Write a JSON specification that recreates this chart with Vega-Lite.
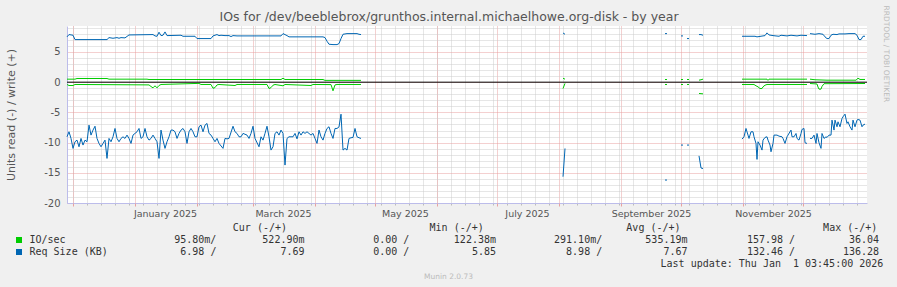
{
  "$schema": "https://vega.github.io/schema/vega-lite/v6.json",
  "width": 800,
  "height": 177,
  "autosize": {"type": "none"},
  "padding": {"left": 67, "top": 26, "right": 30, "bottom": 84},
  "background": "#F0F0F0",
  "title": {
    "text": "IOs for /dev/beeblebrox/grunthos.internal.michaelhowe.org-disk - by year",
    "frame": "group", "anchor": "middle", "dx": -18, "dy": 28, "offset": 0, "baseline": "alphabetic",
    "font": "DejaVu Sans", "fontSize": 12.5, "fontWeight": "normal", "color": "#555555"
  },
  "config": {
    "view": {"fill": "#FFFFFF", "stroke": null},
    "font": "DejaVu Sans"
  },
  "datasets": {
    "series": [
      {"d":"2024-11-28","m":"S","s":"r1","v":-9.04},{"d":"2024-11-29","m":"S","s":"r1","v":-8.21},{"d":"2024-11-30","m":"S","s":"r1","v":-9.31},
      {"d":"2024-12-01","m":"S","s":"r1","v":-10.96},{"d":"2024-12-02","m":"S","s":"r1","v":-9.86},{"d":"2024-12-03","m":"S","s":"r1","v":-9.59},
      {"d":"2024-12-04","m":"S","s":"r1","v":-10.69},{"d":"2024-12-05","m":"S","s":"r1","v":-9.31},{"d":"2024-12-06","m":"S","s":"r1","v":-10.41},
      {"d":"2024-12-07","m":"S","s":"r1","v":-9.59},{"d":"2024-12-08","m":"S","s":"r1","v":-9.86},{"d":"2024-12-09","m":"S","s":"r1","v":-7.11},
      {"d":"2024-12-10","m":"S","s":"r1","v":-8.76},{"d":"2024-12-11","m":"S","s":"r1","v":-7.93},{"d":"2024-12-12","m":"S","s":"r1","v":-7.29},
      {"d":"2024-12-13","m":"S","s":"r1","v":-9.31},{"d":"2024-12-14","m":"S","s":"r1","v":-10.14},{"d":"2024-12-15","m":"S","s":"r1","v":-10.69},
      {"d":"2024-12-16","m":"S","s":"r1","v":-10.14},{"d":"2024-12-17","m":"S","s":"r1","v":-9.59},{"d":"2024-12-18","m":"S","s":"r1","v":-12.62},
      {"d":"2024-12-19","m":"S","s":"r1","v":-9.31},{"d":"2024-12-20","m":"S","s":"r1","v":-9.86},{"d":"2024-12-21","m":"S","s":"r1","v":-9.04},
      {"d":"2024-12-22","m":"S","s":"r1","v":-7.66},{"d":"2024-12-23","m":"S","s":"r1","v":-9.31},{"d":"2024-12-24","m":"S","s":"r1","v":-9.86},
      {"d":"2024-12-25","m":"S","s":"r1","v":-9.31},{"d":"2024-12-26","m":"S","s":"r1","v":-9.04},{"d":"2024-12-27","m":"S","s":"r1","v":-9.31},
      {"d":"2024-12-28","m":"S","s":"r1","v":-8.76},{"d":"2024-12-29","m":"S","s":"r1","v":-9.31},{"d":"2024-12-30","m":"S","s":"r1","v":-10.14},
      {"d":"2024-12-31","m":"S","s":"r1","v":-8.76},{"d":"2025-01-01","m":"S","s":"r1","v":-8.48},{"d":"2025-01-02","m":"S","s":"r1","v":-8.21},
      {"d":"2025-01-03","m":"S","s":"r1","v":-7.66},{"d":"2025-01-04","m":"S","s":"r1","v":-9.31},{"d":"2025-01-05","m":"S","s":"r1","v":-9.04},
      {"d":"2025-01-06","m":"S","s":"r1","v":-7.66},{"d":"2025-01-07","m":"S","s":"r1","v":-9.04},{"d":"2025-01-08","m":"S","s":"r1","v":-9.59},
      {"d":"2025-01-09","m":"S","s":"r1","v":-9.31},{"d":"2025-01-10","m":"S","s":"r1","v":-8.76},{"d":"2025-01-11","m":"S","s":"r1","v":-9.31},
      {"d":"2025-01-12","m":"S","s":"r1","v":-9.86},{"d":"2025-01-13","m":"S","s":"r1","v":-12.62},{"d":"2025-01-14","m":"S","s":"r1","v":-7.93},
      {"d":"2025-01-15","m":"S","s":"r1","v":-9.59},{"d":"2025-01-16","m":"S","s":"r1","v":-10.96},{"d":"2025-01-17","m":"S","s":"r1","v":-9.86},
      {"d":"2025-01-18","m":"S","s":"r1","v":-9.04},{"d":"2025-01-19","m":"S","s":"r1","v":-7.93},{"d":"2025-01-20","m":"S","s":"r1","v":-7.93},
      {"d":"2025-01-21","m":"S","s":"r1","v":-8.21},{"d":"2025-01-22","m":"S","s":"r1","v":-9.31},{"d":"2025-01-23","m":"S","s":"r1","v":-8.48},
      {"d":"2025-01-24","m":"S","s":"r1","v":-7.93},{"d":"2025-01-25","m":"S","s":"r1","v":-7.66},{"d":"2025-01-26","m":"S","s":"r1","v":-8.21},
      {"d":"2025-01-27","m":"S","s":"r1","v":-10.14},{"d":"2025-01-28","m":"S","s":"r1","v":-8.21},{"d":"2025-01-29","m":"S","s":"r1","v":-7.66},
      {"d":"2025-01-30","m":"S","s":"r1","v":-8.21},{"d":"2025-01-31","m":"S","s":"r1","v":-9.04},{"d":"2025-02-01","m":"S","s":"r1","v":-9.04},
      {"d":"2025-02-02","m":"S","s":"r1","v":-7.38},{"d":"2025-02-03","m":"S","s":"r1","v":-7.11},{"d":"2025-02-04","m":"S","s":"r1","v":-8.21},
      {"d":"2025-02-05","m":"S","s":"r1","v":-7.11},{"d":"2025-02-06","m":"S","s":"r1","v":-6.83},{"d":"2025-02-07","m":"S","s":"r1","v":-8.48},
      {"d":"2025-02-08","m":"S","s":"r1","v":-8.76},{"d":"2025-02-09","m":"S","s":"r1","v":-9.31},{"d":"2025-02-10","m":"S","s":"r1","v":-9.86},
      {"d":"2025-02-11","m":"S","s":"r1","v":-9.31},{"d":"2025-02-12","m":"S","s":"r1","v":-10.14},{"d":"2025-02-14","m":"S","s":"r1","v":-10.96},
      {"d":"2025-02-15","m":"S","s":"r1","v":-9.31},{"d":"2025-02-16","m":"S","s":"r1","v":-9.38},{"d":"2025-02-17","m":"S","s":"r1","v":-9.31},
      {"d":"2025-02-19","m":"S","s":"r1","v":-7.29},{"d":"2025-02-20","m":"S","s":"r1","v":-8.21},{"d":"2025-02-21","m":"S","s":"r1","v":-8.48},
      {"d":"2025-02-22","m":"S","s":"r1","v":-9.04},{"d":"2025-02-23","m":"S","s":"r1","v":-9.04},{"d":"2025-02-24","m":"S","s":"r1","v":-8.48},
      {"d":"2025-02-26","m":"S","s":"r1","v":-8.76},{"d":"2025-02-27","m":"S","s":"r1","v":-9.31},{"d":"2025-02-28","m":"S","s":"r1","v":-8.48},
      {"d":"2025-03-01","m":"S","s":"r1","v":-7.29},{"d":"2025-03-02","m":"S","s":"r1","v":-9.31},{"d":"2025-03-04","m":"S","s":"r1","v":-10.69},
      {"d":"2025-03-05","m":"S","s":"r1","v":-9.04},{"d":"2025-03-06","m":"S","s":"r1","v":-9.59},{"d":"2025-03-07","m":"S","s":"r1","v":-8.48},
      {"d":"2025-03-08","m":"S","s":"r1","v":-7.29},{"d":"2025-03-09","m":"S","s":"r1","v":-9.04},{"d":"2025-03-10","m":"S","s":"r1","v":-11.24},
      {"d":"2025-03-11","m":"S","s":"r1","v":-10.69},{"d":"2025-03-12","m":"S","s":"r1","v":-8.48},{"d":"2025-03-13","m":"S","s":"r1","v":-8.21},
      {"d":"2025-03-14","m":"S","s":"r1","v":-8.76},{"d":"2025-03-15","m":"S","s":"r1","v":-7.93},{"d":"2025-03-16","m":"S","s":"r1","v":-8.48},
      {"d":"2025-03-17","m":"S","s":"r1","v":-13.72},{"d":"2025-03-18","m":"S","s":"r1","v":-9.31},{"d":"2025-03-19","m":"S","s":"r1","v":-9.04},
      {"d":"2025-03-21","m":"S","s":"r1","v":-9.04},{"d":"2025-03-22","m":"S","s":"r1","v":-8.48},{"d":"2025-03-23","m":"S","s":"r1","v":-9.38},
      {"d":"2025-03-24","m":"S","s":"r1","v":-8.21},{"d":"2025-03-25","m":"S","s":"r1","v":-8.76},{"d":"2025-03-26","m":"S","s":"r1","v":-8.21},
      {"d":"2025-03-27","m":"S","s":"r1","v":-8.48},{"d":"2025-03-28","m":"S","s":"r1","v":-8.21},{"d":"2025-03-30","m":"S","s":"r1","v":-8.76},
      {"d":"2025-03-31","m":"S","s":"r1","v":-8.48},{"d":"2025-04-01","m":"S","s":"r1","v":-9.31},{"d":"2025-04-02","m":"S","s":"r1","v":-10.14},
      {"d":"2025-04-03","m":"S","s":"r1","v":-7.93},{"d":"2025-04-04","m":"S","s":"r1","v":-9.04},{"d":"2025-04-05","m":"S","s":"r1","v":-9.59},
      {"d":"2025-04-06","m":"S","s":"r1","v":-8.48},{"d":"2025-04-07","m":"S","s":"r1","v":-7.66},{"d":"2025-04-08","m":"S","s":"r1","v":-7.38},
      {"d":"2025-04-09","m":"S","s":"r1","v":-8.48},{"d":"2025-04-10","m":"S","s":"r1","v":-9.31},{"d":"2025-04-11","m":"S","s":"r1","v":-7.66},
      {"d":"2025-04-12","m":"S","s":"r1","v":-7.66},{"d":"2025-04-13","m":"S","s":"r1","v":-7.4},{"d":"2025-04-14","m":"S","s":"r1","v":-5.3},
      {"d":"2025-04-15","m":"S","s":"r1","v":-11.24},{"d":"2025-04-16","m":"S","s":"r1","v":-10.96},{"d":"2025-04-17","m":"S","s":"r1","v":-11.24},
      {"d":"2025-04-18","m":"S","s":"r1","v":-9.31},{"d":"2025-04-19","m":"S","s":"r1","v":-9.2},{"d":"2025-04-20","m":"S","s":"r1","v":-9.15},
      {"d":"2025-04-21","m":"S","s":"r1","v":-7.66},{"d":"2025-04-22","m":"S","s":"r1","v":-9.04},{"d":"2025-04-23","m":"S","s":"r1","v":-9.2},
      {"d":"2025-04-24","m":"S","s":"r1","v":-9.31},

      {"d":"2024-11-28","m":"S","s":"w1","v":7.5},{"d":"2024-11-29","m":"S","s":"w1","v":7.88},{"d":"2024-12-01","m":"S","s":"w1","v":7.77},
      {"d":"2024-12-02","m":"S","s":"w1","v":7.05},{"d":"2024-12-18","m":"S","s":"w1","v":7.05},{"d":"2024-12-19","m":"S","s":"w1","v":7.38},
      {"d":"2024-12-21","m":"S","s":"w1","v":7.27},{"d":"2024-12-23","m":"S","s":"w1","v":7.38},{"d":"2024-12-24","m":"S","s":"w1","v":7.27},
      {"d":"2024-12-25","m":"S","s":"w1","v":7.38},{"d":"2024-12-27","m":"S","s":"w1","v":7.33},{"d":"2024-12-29","m":"S","s":"w1","v":7.82},
      {"d":"2025-01-10","m":"S","s":"w1","v":7.88},{"d":"2025-01-11","m":"S","s":"w1","v":7.66},{"d":"2025-01-12","m":"S","s":"w1","v":7.6},
      {"d":"2025-01-13","m":"S","s":"w1","v":8.27},{"d":"2025-01-14","m":"S","s":"w1","v":7.71},{"d":"2025-01-15","m":"S","s":"w1","v":7.77},
      {"d":"2025-01-16","m":"S","s":"w1","v":8.32},{"d":"2025-01-17","m":"S","s":"w1","v":7.71},{"d":"2025-01-24","m":"S","s":"w1","v":7.77},
      {"d":"2025-01-25","m":"S","s":"w1","v":7.6},{"d":"2025-01-31","m":"S","s":"w1","v":7.6},{"d":"2025-02-01","m":"S","s":"w1","v":7.22},
      {"d":"2025-02-08","m":"S","s":"w1","v":7.22},{"d":"2025-02-09","m":"S","s":"w1","v":7.66},{"d":"2025-02-11","m":"S","s":"w1","v":7.88},
      {"d":"2025-02-12","m":"S","s":"w1","v":7.71},{"d":"2025-02-13","m":"S","s":"w1","v":7.77},{"d":"2025-02-15","m":"S","s":"w1","v":7.71},
      {"d":"2025-02-17","m":"S","s":"w1","v":7.71},{"d":"2025-02-18","m":"S","s":"w1","v":7.55},{"d":"2025-02-19","m":"S","s":"w1","v":7.71},
      {"d":"2025-02-21","m":"S","s":"w1","v":7.66},{"d":"2025-03-15","m":"S","s":"w1","v":7.66},{"d":"2025-03-16","m":"S","s":"w1","v":8.04},
      {"d":"2025-03-18","m":"S","s":"w1","v":7.71},{"d":"2025-03-19","m":"S","s":"w1","v":7.5},{"d":"2025-03-21","m":"S","s":"w1","v":7.5},
      {"d":"2025-04-05","m":"S","s":"w1","v":7.5},{"d":"2025-04-06","m":"S","s":"w1","v":7.38},{"d":"2025-04-07","m":"S","s":"w1","v":6.78},
      {"d":"2025-04-08","m":"S","s":"w1","v":6.28},{"d":"2025-04-10","m":"S","s":"w1","v":6.22},{"d":"2025-04-12","m":"S","s":"w1","v":6.22},
      {"d":"2025-04-13","m":"S","s":"w1","v":6.39},{"d":"2025-04-14","m":"S","s":"w1","v":7.22},{"d":"2025-04-15","m":"S","s":"w1","v":7.93},
      {"d":"2025-04-17","m":"S","s":"w1","v":8.04},{"d":"2025-04-22","m":"S","s":"w1","v":8.04},{"d":"2025-04-23","m":"S","s":"w1","v":7.93},
      {"d":"2025-04-24","m":"S","s":"w1","v":7.88},

      {"d":"2024-11-28","m":"I","s":"w1","v":0.5},{"d":"2024-12-02","m":"I","s":"w1","v":0.5},{"d":"2024-12-03","m":"I","s":"w1","v":0.61},
      {"d":"2024-12-18","m":"I","s":"w1","v":0.61},{"d":"2024-12-19","m":"I","s":"w1","v":0.5},{"d":"2025-01-07","m":"I","s":"w1","v":0.5},
      {"d":"2025-01-08","m":"I","s":"w1","v":0.44},{"d":"2025-03-15","m":"I","s":"w1","v":0.44},{"d":"2025-03-16","m":"I","s":"w1","v":0.66},
      {"d":"2025-03-17","m":"I","s":"w1","v":0.44},{"d":"2025-04-05","m":"I","s":"w1","v":0.44},{"d":"2025-04-06","m":"I","s":"w1","v":0.3},
      {"d":"2025-04-24","m":"I","s":"w1","v":0.3},

      {"d":"2024-11-28","m":"I","s":"r1","v":-0.38},{"d":"2024-11-29","m":"I","s":"r1","v":-0.55},{"d":"2024-12-01","m":"I","s":"r1","v":-0.55},
      {"d":"2024-12-02","m":"I","s":"r1","v":-0.38},{"d":"2025-01-08","m":"I","s":"r1","v":-0.45},{"d":"2025-01-09","m":"I","s":"r1","v":-0.72},
      {"d":"2025-01-10","m":"I","s":"r1","v":-0.94},{"d":"2025-01-11","m":"I","s":"r1","v":-0.6},{"d":"2025-01-12","m":"I","s":"r1","v":-0.94},
      {"d":"2025-01-13","m":"I","s":"r1","v":-0.55},{"d":"2025-01-14","m":"I","s":"r1","v":-0.38},{"d":"2025-02-02","m":"I","s":"r1","v":-0.2},
      {"d":"2025-02-03","m":"I","s":"r1","v":-0.38},{"d":"2025-02-08","m":"I","s":"r1","v":-0.38},{"d":"2025-02-09","m":"I","s":"r1","v":-1.0},
      {"d":"2025-02-10","m":"I","s":"r1","v":-0.9},{"d":"2025-02-11","m":"I","s":"r1","v":-0.45},{"d":"2025-02-12","m":"I","s":"r1","v":-0.38},
      {"d":"2025-02-20","m":"I","s":"r1","v":-0.55},{"d":"2025-02-21","m":"I","s":"r1","v":-0.38},{"d":"2025-03-08","m":"I","s":"r1","v":-0.38},
      {"d":"2025-03-09","m":"I","s":"r1","v":-1.05},{"d":"2025-03-10","m":"I","s":"r1","v":-0.9},{"d":"2025-03-11","m":"I","s":"r1","v":-0.5},
      {"d":"2025-03-12","m":"I","s":"r1","v":-0.38},{"d":"2025-03-16","m":"I","s":"r1","v":-0.6},{"d":"2025-03-17","m":"I","s":"r1","v":-0.38},
      {"d":"2025-03-30","m":"I","s":"r1","v":-0.55},{"d":"2025-03-31","m":"I","s":"r1","v":-0.38},{"d":"2025-04-09","m":"I","s":"r1","v":-0.4},
      {"d":"2025-04-10","m":"I","s":"r1","v":-1.43},{"d":"2025-04-11","m":"I","s":"r1","v":-0.45},{"d":"2025-04-12","m":"I","s":"r1","v":-0.38},
      {"d":"2025-04-24","m":"I","s":"r1","v":-0.38},

      {"d":"2025-08-03","m":"S","s":"w2","v":8.15},{"d":"2025-08-04","m":"S","s":"w2","v":7.93},
      {"d":"2025-08-03","m":"S","s":"r2","v":-15.65},{"d":"2025-08-04","m":"S","s":"r2","v":-10.97},
      {"d":"2025-08-03","m":"I","s":"w2","v":0.65},{"d":"2025-08-04","m":"I","s":"w2","v":0.5},
      {"d":"2025-08-03","m":"I","s":"r2","v":-1.05},{"d":"2025-08-04","m":"I","s":"r2","v":-0.2},

      {"d":"2025-09-23","m":"S","s":"w3","v":8.04},{"d":"2025-09-24","m":"S","s":"w3","v":8.04},
      {"d":"2025-09-23","m":"S","s":"r3","v":-16.2},{"d":"2025-09-24","m":"S","s":"r3","v":-16.2},
      {"d":"2025-09-23","m":"I","s":"w3","v":0.44},{"d":"2025-09-24","m":"I","s":"w3","v":0.44},
      {"d":"2025-09-23","m":"I","s":"r3","v":-0.38},{"d":"2025-09-24","m":"I","s":"r3","v":-0.38},

      {"d":"2025-10-01","m":"S","s":"w4","v":7.66},{"d":"2025-10-02","m":"S","s":"w4","v":7.66},
      {"d":"2025-10-01","m":"S","s":"r4","v":-10.41},{"d":"2025-10-02","m":"S","s":"r4","v":-10.41},
      {"d":"2025-10-01","m":"I","s":"w4","v":0.44},{"d":"2025-10-02","m":"I","s":"w4","v":0.44},
      {"d":"2025-10-01","m":"I","s":"r4","v":-0.38},{"d":"2025-10-02","m":"I","s":"r4","v":-0.38},

      {"d":"2025-10-04","m":"S","s":"w5","v":7.22},{"d":"2025-10-05","m":"S","s":"w5","v":7.22},
      {"d":"2025-10-04","m":"S","s":"r5","v":-10.41},{"d":"2025-10-05","m":"S","s":"r5","v":-10.41},
      {"d":"2025-10-04","m":"I","s":"w5","v":0.44},{"d":"2025-10-05","m":"I","s":"w5","v":0.44},
      {"d":"2025-10-04","m":"I","s":"r5","v":-0.38},{"d":"2025-10-05","m":"I","s":"r5","v":-0.38},

      {"d":"2025-10-10","m":"S","s":"w6","v":7.88},{"d":"2025-10-11","m":"S","s":"w6","v":7.88},{"d":"2025-10-12","m":"S","s":"w6","v":7.77},
      {"d":"2025-10-10","m":"S","s":"r6","v":-12.2},{"d":"2025-10-11","m":"S","s":"r6","v":-14.2},{"d":"2025-10-12","m":"S","s":"r6","v":-14.3},
      {"d":"2025-10-10","m":"I","s":"w6","v":0.33},{"d":"2025-10-11","m":"I","s":"w6","v":0.4},{"d":"2025-10-12","m":"I","s":"w6","v":0.5},
      {"d":"2025-10-10","m":"I","s":"r6","v":-1.87},{"d":"2025-10-11","m":"I","s":"r6","v":-1.9},{"d":"2025-10-12","m":"I","s":"r6","v":-1.93},

      {"d":"2025-10-31T12:00:00Z","m":"S","s":"r7","v":-9.42},{"d":"2025-11-01T12:00:00Z","m":"S","s":"r7","v":-9.04},
      {"d":"2025-11-02T12:00:00Z","m":"S","s":"r7","v":-7.66},{"d":"2025-11-03T12:00:00Z","m":"S","s":"r7","v":-8.76},
      {"d":"2025-11-04","m":"S","s":"r7","v":-9.31},{"d":"2025-11-05","m":"S","s":"r7","v":-8.21},{"d":"2025-11-06","m":"S","s":"r7","v":-8.21},
      {"d":"2025-11-06T12:00:00Z","m":"S","s":"r7","v":-9.04},{"d":"2025-11-07T12:00:00Z","m":"S","s":"r7","v":-10.14},
      {"d":"2025-11-08","m":"S","s":"r7","v":-12.78},{"d":"2025-11-08T12:00:00Z","m":"S","s":"r7","v":-9.86},
      {"d":"2025-11-09T12:00:00Z","m":"S","s":"r7","v":-10.41},{"d":"2025-11-10T12:00:00Z","m":"S","s":"r7","v":-11.24},
      {"d":"2025-11-11","m":"S","s":"r7","v":-9.59},{"d":"2025-11-12","m":"S","s":"r7","v":-9.15},{"d":"2025-11-13","m":"S","s":"r7","v":-9.04},
      {"d":"2025-11-13T12:00:00Z","m":"S","s":"r7","v":-9.59},{"d":"2025-11-14T12:00:00Z","m":"S","s":"r7","v":-10.41},
      {"d":"2025-11-15","m":"S","s":"r7","v":-11.52},{"d":"2025-11-16","m":"S","s":"r7","v":-10.14},{"d":"2025-11-16T12:00:00Z","m":"S","s":"r7","v":-8.76},
      {"d":"2025-11-18","m":"S","s":"r7","v":-8.76},{"d":"2025-11-19","m":"S","s":"r7","v":-8.93},{"d":"2025-11-20T12:00:00Z","m":"S","s":"r7","v":-9.04},
      {"d":"2025-11-21","m":"S","s":"r7","v":-9.31},{"d":"2025-11-22","m":"S","s":"r7","v":-10.14},{"d":"2025-11-23","m":"S","s":"r7","v":-9.04},
      {"d":"2025-11-23T12:00:00Z","m":"S","s":"r7","v":-8.76},{"d":"2025-11-25","m":"S","s":"r7","v":-7.93},
      {"d":"2025-11-25T12:00:00Z","m":"S","s":"r7","v":-9.04},{"d":"2025-11-26T12:00:00Z","m":"S","s":"r7","v":-9.04},
      {"d":"2025-11-27T12:00:00Z","m":"S","s":"r7","v":-8.49},{"d":"2025-11-28","m":"S","s":"r7","v":-9.31},{"d":"2025-11-29","m":"S","s":"r7","v":-9.59},
      {"d":"2025-11-30","m":"S","s":"r7","v":-8.49},{"d":"2025-11-30T12:00:00Z","m":"S","s":"r7","v":-7.82},
      {"d":"2025-12-01T12:00:00Z","m":"S","s":"r7","v":-7.66},{"d":"2025-12-02","m":"S","s":"r7","v":-10.03},{"d":"2025-12-03","m":"S","s":"r7","v":-10.14},

      {"d":"2025-12-04T12:00:00Z","m":"S","s":"r8","v":-9.31},{"d":"2025-12-05T12:00:00Z","m":"S","s":"r8","v":-9.31},
      {"d":"2025-12-06T12:00:00Z","m":"S","s":"r8","v":-8.76},{"d":"2025-12-07T12:00:00Z","m":"S","s":"r8","v":-10.14},
      {"d":"2025-12-08","m":"S","s":"r8","v":-8.49},{"d":"2025-12-09","m":"S","s":"r8","v":-10.03},{"d":"2025-12-10","m":"S","s":"r8","v":-10.96},
      {"d":"2025-12-10T12:00:00Z","m":"S","s":"r8","v":-8.49},{"d":"2025-12-11T12:00:00Z","m":"S","s":"r8","v":-9.31},
      {"d":"2025-12-12T12:00:00Z","m":"S","s":"r8","v":-9.04},{"d":"2025-12-13","m":"S","s":"r8","v":-9.15},{"d":"2025-12-14","m":"S","s":"r8","v":-8.76},
      {"d":"2025-12-15","m":"S","s":"r8","v":-8.76},{"d":"2025-12-15T12:00:00Z","m":"S","s":"r8","v":-6.28},
      {"d":"2025-12-16T12:00:00Z","m":"S","s":"r8","v":-7.93},{"d":"2025-12-17","m":"S","s":"r8","v":-6.28},{"d":"2025-12-18","m":"S","s":"r8","v":-7.38},
      {"d":"2025-12-18T12:00:00Z","m":"S","s":"r8","v":-6.56},{"d":"2025-12-19T12:00:00Z","m":"S","s":"r8","v":-7.38},
      {"d":"2025-12-20T12:00:00Z","m":"S","s":"r8","v":-6.01},{"d":"2025-12-21","m":"S","s":"r8","v":-5.73},{"d":"2025-12-22","m":"S","s":"r8","v":-5.29},
      {"d":"2025-12-23","m":"S","s":"r8","v":-6.83},{"d":"2025-12-23T12:00:00Z","m":"S","s":"r8","v":-6.56},
      {"d":"2025-12-24T12:00:00Z","m":"S","s":"r8","v":-7.38},{"d":"2025-12-25T12:00:00Z","m":"S","s":"r8","v":-7.93},
      {"d":"2025-12-26","m":"S","s":"r8","v":-6.28},{"d":"2025-12-27","m":"S","s":"r8","v":-7.38},{"d":"2025-12-28","m":"S","s":"r8","v":-6.28},
      {"d":"2025-12-28T12:00:00Z","m":"S","s":"r8","v":-6.17},{"d":"2025-12-29T12:00:00Z","m":"S","s":"r8","v":-6.28},
      {"d":"2025-12-30T12:00:00Z","m":"S","s":"r8","v":-7.38},{"d":"2025-12-31","m":"S","s":"r8","v":-7.11},{"d":"2026-01-01","m":"S","s":"r8","v":-6.94},

      {"d":"2025-10-31T12:00:00Z","m":"S","s":"w7","v":7.6},{"d":"2025-11-07","m":"S","s":"w7","v":7.6},{"d":"2025-11-08","m":"S","s":"w7","v":7.5},
      {"d":"2025-11-12","m":"S","s":"w7","v":7.71},{"d":"2025-11-13","m":"S","s":"w7","v":8.16},{"d":"2025-11-14","m":"S","s":"w7","v":7.82},
      {"d":"2025-11-16","m":"S","s":"w7","v":7.71},{"d":"2025-11-19","m":"S","s":"w7","v":7.6},{"d":"2025-11-20","m":"S","s":"w7","v":7.77},
      {"d":"2025-11-23","m":"S","s":"w7","v":7.66},{"d":"2025-11-25","m":"S","s":"w7","v":7.77},{"d":"2025-11-28","m":"S","s":"w7","v":7.66},
      {"d":"2025-11-30","m":"S","s":"w7","v":7.77},{"d":"2025-12-03","m":"S","s":"w7","v":7.71},

      {"d":"2025-12-04T12:00:00Z","m":"S","s":"w8","v":8.04},{"d":"2025-12-07","m":"S","s":"w8","v":7.93},{"d":"2025-12-09","m":"S","s":"w8","v":8.04},
      {"d":"2025-12-11","m":"S","s":"w8","v":7.93},{"d":"2025-12-12","m":"S","s":"w8","v":7.5},{"d":"2025-12-13","m":"S","s":"w8","v":7.22},
      {"d":"2025-12-14","m":"S","s":"w8","v":7.22},{"d":"2025-12-15","m":"S","s":"w8","v":7.77},{"d":"2025-12-16","m":"S","s":"w8","v":7.93},
      {"d":"2025-12-18","m":"S","s":"w8","v":7.88},{"d":"2025-12-19","m":"S","s":"w8","v":7.99},{"d":"2025-12-22","m":"S","s":"w8","v":7.99},
      {"d":"2025-12-24","m":"S","s":"w8","v":8.04},{"d":"2025-12-27","m":"S","s":"w8","v":8.04},{"d":"2025-12-28","m":"S","s":"w8","v":7.77},
      {"d":"2025-12-29","m":"S","s":"w8","v":7.05},{"d":"2025-12-30","m":"S","s":"w8","v":7.05},{"d":"2025-12-31","m":"S","s":"w8","v":7.6},
      {"d":"2026-01-01","m":"S","s":"w8","v":7.6},

      {"d":"2025-10-31T12:00:00Z","m":"I","s":"w7","v":0.5},{"d":"2025-11-13","m":"I","s":"w7","v":0.5},
      {"d":"2025-11-13T12:00:00Z","m":"I","s":"w7","v":0.3},{"d":"2025-11-14","m":"I","s":"w7","v":0.5},{"d":"2025-12-03","m":"I","s":"w7","v":0.5},

      {"d":"2025-10-31T12:00:00Z","m":"I","s":"r7","v":-0.38},{"d":"2025-11-06T12:00:00Z","m":"I","s":"r7","v":-0.38},
      {"d":"2025-11-07T12:00:00Z","m":"I","s":"r7","v":-0.6},{"d":"2025-11-08T12:00:00Z","m":"I","s":"r7","v":-0.77},
      {"d":"2025-11-09T12:00:00Z","m":"I","s":"r7","v":-1.05},{"d":"2025-11-10T12:00:00Z","m":"I","s":"r7","v":-1.05},
      {"d":"2025-11-11","m":"I","s":"r7","v":-0.77},{"d":"2025-11-12","m":"I","s":"r7","v":-0.5},{"d":"2025-11-13","m":"I","s":"r7","v":-0.38},
      {"d":"2025-12-03","m":"I","s":"r7","v":-0.38},

      {"d":"2025-12-04T12:00:00Z","m":"I","s":"w8","v":0.5},{"d":"2025-12-07","m":"I","s":"w8","v":0.4},{"d":"2025-12-13","m":"I","s":"w8","v":0.33},
      {"d":"2025-12-27T12:00:00Z","m":"I","s":"w8","v":0.33},{"d":"2025-12-28T12:00:00Z","m":"I","s":"w8","v":0.66},
      {"d":"2025-12-29T12:00:00Z","m":"I","s":"w8","v":0.45},{"d":"2026-01-01","m":"I","s":"w8","v":0.45},

      {"d":"2025-12-04T12:00:00Z","m":"I","s":"r8","v":-0.22},{"d":"2025-12-08","m":"I","s":"r8","v":-0.3},
      {"d":"2025-12-08T12:00:00Z","m":"I","s":"r8","v":-0.8},{"d":"2025-12-09","m":"I","s":"r8","v":-1.15},{"d":"2025-12-10","m":"I","s":"r8","v":-1.15},
      {"d":"2025-12-10T12:00:00Z","m":"I","s":"r8","v":-0.7},{"d":"2025-12-11T12:00:00Z","m":"I","s":"r8","v":-0.25},{"d":"2026-01-01","m":"I","s":"r8","v":-0.22}
    ],
    "heads": [
      {"stat": "Cur", "row": "hdr", "t": "Cur (-/+)"},
      {"stat": "Min", "row": "hdr", "t": "Min (-/+)"},
      {"stat": "Avg", "row": "hdr", "t": "Avg (-/+)"},
      {"stat": "Max", "row": "hdr", "t": "Max (-/+)"}
    ],
    "update": [
      {"stat": "Max", "row": "upd", "t": "Last update: Thu Jan \u00a01 03:45:00 2026"}
    ],
    "cells": [
      {"row": "io", "stat": "Cur", "r": "95.80m/", "w": "522.90m"},
      {"row": "io", "stat": "Min", "r": "0.00 /", "w": "122.38m"},
      {"row": "io", "stat": "Avg", "r": "291.10m/", "w": "535.19m"},
      {"row": "io", "stat": "Max", "r": "157.98 /", "w": "36.04"},
      {"row": "size", "stat": "Cur", "r": "6.98 /", "w": "7.69\u00a0"},
      {"row": "size", "stat": "Min", "r": "0.00 /", "w": "5.85\u00a0"},
      {"row": "size", "stat": "Avg", "r": "8.98 /", "w": "7.67\u00a0"},
      {"row": "size", "stat": "Max", "r": "132.46 /", "w": "136.28"}
    ]
  },
  "layer": [
    {
      "data": {"name": "series"},
      "layer": [
        {
          "data": {"values": [{}]},
          "mark": {"type": "rule", "color": "#000000", "strokeWidth": 1},
          "encoding": {"y": {"datum": 0, "type": "quantitative", "axis": null}}
        },
        {
          "transform": [{"filter": "datum.m == 'I'"}],
          "mark": {"type": "line", "strokeWidth": 1},
          "encoding": {
            "x": {
              "field": "d", "type": "temporal",
              "scale": {"type": "utc", "domain": [{"year": 2024, "month": 11, "date": 28, "utc": true}, {"year": 2026, "month": 1, "date": 2, "utc": true}]},
              "axis": {
                "orient": "bottom",
                "tickCount": {"interval": "week", "step": 1},
                "grid": true, "gridColor": "#CCCCCC", "gridDash": [1, 1],
                "labels": false, "ticks": true, "tickSize": 2, "tickColor": "#BBBBBB",
                "domain": true, "domainColor": "#BCBCEA", "title": null
              }
            },
            "y": {
              "field": "v", "type": "quantitative",
              "scale": {"domain": [-20, 9.3], "nice": false, "zero": false},
              "axis": {
                "orient": "left",
                "values": [-20,-19,-18,-17,-16,-15,-14,-13,-12,-11,-10,-9,-8,-7,-6,-5,-4,-3,-2,-1,0,1,2,3,4,5,6,7,8,9],
                "grid": true,
                "gridColor": {"condition": {"test": "datum.value % 5 === 0", "value": "#E8A0A0"}, "value": "#CCCCCC"},
                "gridDash": [1, 1],
                "labelExpr": "datum.value % 5 === 0 ? '' + datum.value : ''",
                "labelOverlap": false,
                "ticks": false, "labelPadding": 7,
                "labelFont": "DejaVu Sans", "labelFontSize": 10, "labelColor": "#555555",
                "domain": true, "domainColor": "#BCBCEA",
                "title": "Units read (-) / write (+)",
                "titleFont": "DejaVu Sans", "titleFontSize": 11, "titleFontWeight": "normal", "titleColor": "#555555",
                "titleAngle": -90, "titleX": -53, "titleY": 88.5, "titleAlign": "center", "titleBaseline": "alphabetic"
              }
            },
            "color": {
              "field": "m", "type": "nominal",
              "scale": {"domain": ["I", "S"], "range": ["#00CC00", "#0066B3"]},
              "legend": {
                "orient": "none", "legendX": -53, "legendY": 209, "title": null, "direction": "vertical",
                "symbolType": "square", "symbolSize": 36, "symbolStrokeWidth": 0,
                "labelFont": "DejaVu Sans Mono", "labelFontSize": 10, "labelColor": "#333333",
                "labelOffset": 5.5, "rowPadding": 2, "padding": 0,
                "labelExpr": "datum.value == 'S' ? 'Req Size (KB)' : 'IO/sec'",
                "encode": {"symbols": {"update": {"fill": {"scale": "color", "field": "value"}, "stroke": {"value": "transparent"}}}}
              }
            },
            "detail": {"field": "s"}
          }
        },
        {
          "transform": [{"filter": "datum.m == 'S'"}],
          "mark": {"type": "line", "strokeWidth": 1},
          "encoding": {
            "x": {
              "field": "d", "type": "temporal",
              "scale": {"type": "utc", "domain": [{"year": 2024, "month": 11, "date": 28, "utc": true}, {"year": 2026, "month": 1, "date": 2, "utc": true}]},
              "axis": {
                "orient": "bottom",
                "values": [
                  {"year": 2024, "month": 12, "date": 1, "utc": true},
                  {"year": 2025, "month": 1, "date": 1, "utc": true},
                  {"year": 2025, "month": 2, "date": 1, "utc": true},
                  {"year": 2025, "month": 3, "date": 1, "utc": true},
                  {"year": 2025, "month": 4, "date": 1, "utc": true},
                  {"year": 2025, "month": 5, "date": 1, "utc": true},
                  {"year": 2025, "month": 6, "date": 1, "utc": true},
                  {"year": 2025, "month": 7, "date": 1, "utc": true},
                  {"year": 2025, "month": 8, "date": 1, "utc": true},
                  {"year": 2025, "month": 9, "date": 1, "utc": true},
                  {"year": 2025, "month": 10, "date": 1, "utc": true},
                  {"year": 2025, "month": 11, "date": 1, "utc": true},
                  {"year": 2025, "month": 12, "date": 1, "utc": true}
                ],
                "grid": true, "gridColor": "#E8A0A0", "gridDash": [1, 1],
                "ticks": true, "tickSize": 3, "tickColor": "#E8A0A0",
                "domain": false,
                "labelExpr": "utcmonth(datum.value) % 2 === 0 ? utcFormat(datum.value, '%B %Y') : ''",
                "labelOffset": 30, "labelPadding": 2.5, "labelOverlap": false, "labelFlush": false, "labelBound": false,
                "labelFont": "DejaVu Sans", "labelFontSize": 9.5, "labelColor": "#555555",
                "title": "Munin 2.0.73",
                "titleFont": "DejaVu Sans", "titleFontSize": 7.5, "titleFontWeight": "normal", "titleColor": "#BBBBBB",
                "titleX": 381, "titleY": 75.5, "titleAlign": "center", "titleBaseline": "alphabetic"
              }
            },
            "y": {"field": "v", "type": "quantitative", "scale": {"domain": [-20, 9.3], "nice": false, "zero": false}, "axis": null},
            "color": {
              "field": "m", "type": "nominal",
              "scale": {"domain": ["I", "S"], "range": ["#00CC00", "#0066B3"]},
              "legend": {
                "orient": "none", "legendX": -53, "legendY": 209, "title": null, "direction": "vertical",
                "symbolType": "square", "symbolSize": 36, "symbolStrokeWidth": 0,
                "labelFont": "DejaVu Sans Mono", "labelFontSize": 10, "labelColor": "#333333",
                "labelOffset": 5.5, "rowPadding": 2, "padding": 0,
                "labelExpr": "datum.value == 'S' ? 'Req Size (KB)' : 'IO/sec'",
                "encode": {"symbols": {"update": {"fill": {"scale": "color", "field": "value"}, "stroke": {"value": "transparent"}}}}
              }
            },
            "detail": {"field": "s"}
          }
        }
      ],
      "resolve": {"axis": {"x": "independent", "y": "independent"}}
    },
    {
      "data": {"name": "heads"},
      "mark": {"type": "text", "align": "right", "baseline": "alphabetic", "font": "DejaVu Sans Mono", "fontSize": 10, "color": "#333333"},
      "encoding": {
        "x": {"field": "stat", "type": "nominal", "scale": {"type": "point", "domain": ["Cur", "Min", "Avg", "Max"], "range": [220, 810.3], "padding": 0}, "axis": null},
        "y": {
          "field": "row", "type": "nominal",
          "scale": {"type": "point", "domain": ["hdr", "io", "size", "upd"], "range": [205.3, 241.3], "padding": 0},
          "axis": {
            "orient": "right", "labels": false, "ticks": false, "domain": false, "grid": false,
            "title": "RRDTOOL / TOBI OETIKER", "titleAngle": 90, "titleX": 16, "titleY": -21,
            "titleAlign": "left", "titleBaseline": "alphabetic",
            "titleFont": "DejaVu Sans", "titleFontSize": 7.5, "titleFontWeight": "normal", "titleColor": "#BBBBBB"
          }
        },
        "text": {"field": "t"}
      }
    },
    {
      "data": {"name": "update"},
      "mark": {"type": "text", "align": "right", "baseline": "alphabetic", "font": "DejaVu Sans Mono", "fontSize": 10, "color": "#333333", "dx": 6},
      "encoding": {
        "x": {"field": "stat", "type": "nominal", "scale": {"type": "point", "domain": ["Cur", "Min", "Avg", "Max"], "range": [220, 810.3], "padding": 0}, "axis": null},
        "y": {"field": "row", "type": "nominal", "scale": {"type": "point", "domain": ["hdr", "io", "size", "upd"], "range": [205.3, 241.3], "padding": 0}, "axis": null},
        "text": {"field": "t"}
      }
    },
    {
      "data": {"name": "cells"},
      "mark": {"type": "text", "align": "right", "baseline": "alphabetic", "font": "DejaVu Sans Mono", "fontSize": 10, "color": "#333333"},
      "encoding": {
        "x": {"field": "stat", "type": "nominal", "scale": {"type": "point", "domain": ["Cur", "Min", "Avg", "Max"], "range": [149.4, 728.1], "padding": 0}, "axis": null},
        "y": {"field": "row", "type": "nominal", "scale": {"type": "point", "domain": ["hdr", "io", "size", "upd"], "range": [205.3, 241.3], "padding": 0}, "axis": null},
        "text": {"field": "r"}
      }
    },
    {
      "data": {"name": "cells"},
      "mark": {"type": "text", "align": "right", "baseline": "alphabetic", "font": "DejaVu Sans Mono", "fontSize": 10, "color": "#333333"},
      "encoding": {
        "x": {"field": "stat", "type": "nominal", "scale": {"type": "point", "domain": ["Cur", "Min", "Avg", "Max"], "range": [237.5, 812], "padding": 0}, "axis": null},
        "y": {"field": "row", "type": "nominal", "scale": {"type": "point", "domain": ["hdr", "io", "size", "upd"], "range": [205.3, 241.3], "padding": 0}, "axis": null},
        "text": {"field": "w"}
      }
    }
  ],
  "resolve": {"scale": {"x": "independent", "y": "independent"}}
}
